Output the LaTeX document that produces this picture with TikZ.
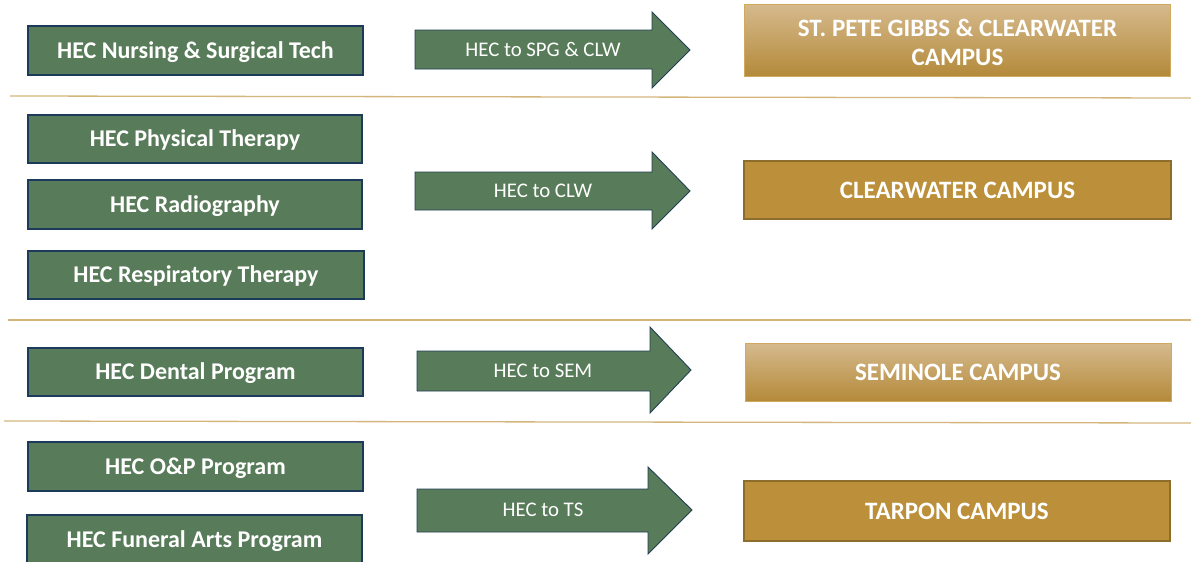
\documentclass[tikz,border=0pt]{standalone}
\usepackage{fontspec}
\setmainfont{Carlito}
\begin{document}
\begin{tikzpicture}[x=1pt,y=-1pt,
  prog/.style={draw=navyb, line width=1.8pt, fill=hecgreen, text=white,
    font=\bfseries\fontsize{24}{28}\selectfont, inner sep=0pt, text height=15.5pt, text depth=0pt},
  campbase/.style={text=white, font=\bfseries\fontsize{25}{29}\selectfont, inner sep=0pt, align=center},
  campgrad/.style={campbase, draw=goldedge, line width=0.8pt, top color=goldtop, bottom color=goldbot},
  campsolid/.style={campbase, draw=golddark, line width=1.5pt, fill=goldsolid},
  oneline/.style={text height=16pt, text depth=0pt},
  arr/.style={draw=navya, line width=0.9pt, fill=hecgreen},
  arrtxt/.style={text=white, font=\fontsize{20.8}{24}\selectfont, inner sep=0pt, text height=13.4pt, text depth=0pt},
  sep/.style={draw=sepgold, line width=1.3pt}
]
\definecolor{hecgreen}{HTML}{587B59}
\definecolor{navyb}{HTML}{1C3B5A}
\definecolor{navya}{HTML}{233F55}
\definecolor{goldtop}{HTML}{D6BA8E}
\definecolor{goldbot}{HTML}{B48A3A}
\definecolor{goldedge}{HTML}{CFA95E}
\definecolor{golddark}{HTML}{8C6D2C}
\definecolor{goldsolid}{HTML}{BC8F3A}
\definecolor{sepgold}{HTML}{D4B67C}
\useasboundingbox (0,0) rectangle (1191,562);
\clip (0,0) rectangle (1191,562);
\fill[white] (0,0) rectangle (1191,562);

% separators
\draw[sep] (10,96) -- (1191,98);
\draw[sep] (8,320) -- (1191,320);
\draw[sep] (4,421) -- (1191,423);

% left program boxes
\node[prog, minimum width=335pt, minimum height=49pt] (p1) at (195.5,50.5) {HEC Nursing \& Surgical Tech};
\node[prog, minimum width=334pt, minimum height=48pt] (p2) at (195,139) {HEC Physical Therapy};
\node[prog, minimum width=334pt, minimum height=49pt] (p3) at (195,204.5) {HEC Radiography};
\node[prog, minimum width=336pt, minimum height=48pt] (p4) at (196,275) {HEC Respiratory Therapy};
\node[prog, minimum width=335pt, minimum height=48pt] (p5) at (195.5,372) {HEC Dental Program};
\node[prog, minimum width=335pt, minimum height=49pt] (p6) at (195.5,466.5) {HEC O\&P Program};
\node[prog, minimum width=335pt, minimum height=50pt] (p7) at (194.5,540) {HEC Funeral Arts Program};

% arrows
\draw[arr] (415,30) -- (652,30) -- (652,12) -- (690,50) -- (652,88) -- (652,69) -- (415,69) -- cycle;
\node[arrtxt] (a1) at (543,50) {HEC to SPG \& CLW};
\draw[arr] (415,172) -- (652,172) -- (652,152) -- (690,191) -- (652,229) -- (652,210) -- (415,210) -- cycle;
\node[arrtxt] (a2) at (543,191) {HEC to CLW};
\draw[arr] (417,351) -- (650,351) -- (650,327) -- (691,370) -- (650,413) -- (650,391) -- (417,391) -- cycle;
\node[arrtxt] (a3) at (543,371) {HEC to SEM};
\draw[arr] (417,489) -- (648,489) -- (648,467) -- (692,510) -- (648,554) -- (648,532) -- (417,532) -- cycle;
\node[arrtxt] (a4) at (543,510) {HEC to TS};

% campus boxes
\node[campgrad, minimum width=426pt, minimum height=72pt] (c1) at (957.5,40) {};
\node[campbase] (c1t) at (957.5,42) {ST. PETE GIBBS \& CLEARWATER\\CAMPUS};
\node[campsolid, oneline, minimum width=427pt, minimum height=58pt] (c2) at (957.5,190) {CLEARWATER CAMPUS};
\node[campgrad, oneline, minimum width=426pt, minimum height=58pt] (c3) at (958,372) {SEMINOLE CAMPUS};
\node[campsolid, oneline, minimum width=426pt, minimum height=60pt] (c4) at (957,511) {TARPON CAMPUS};
\end{tikzpicture}
\end{document}
